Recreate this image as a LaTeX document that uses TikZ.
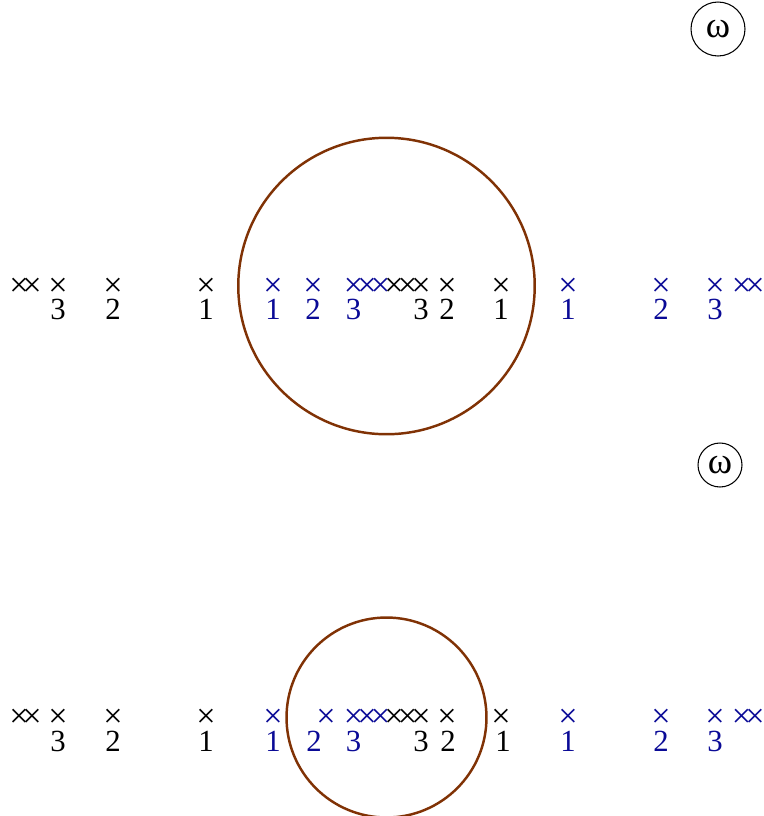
\documentclass[tikz,border=0pt]{standalone}
\usepackage{fontspec}
\setmainfont{Liberation Serif}
\usepackage{xcolor}
\usepackage{tikz}
\usetikzlibrary{positioning}
\definecolor{ringbrown}{RGB}{128,50,5}
\definecolor{imgblue}{RGB}{10,10,150}

\begin{document}
\begin{tikzpicture}[x=0.02cm,y=-0.02cm,
  every node/.style={inner sep=0pt,font=\fontsize{17.5}{20}\selectfont},
  xmark/.style={anchor=center,font=\fontsize{19.5}{22}\selectfont},
  lbl/.style={anchor=base},
  ring/.style={draw=ringbrown,line width=1.4pt,circle},
  omg/.style={draw,circle,line width=0.6pt,font=\fontsize{21}{24}\selectfont}]
  \useasboundingbox (0,0) rectangle (764,816);

  % top panel
  \node[omg,minimum size=1.08cm] (wtop) at (718,29) {ω};
  \node[ring,minimum size=5.93cm] (ctop) at (386.5,286) {};
  \foreach \p/\c [count=\i] in {19/black,32/black,58/black,113/black,206/black,
      273/imgblue,313/imgblue,353.5/imgblue,367/imgblue,380.5/imgblue,
      394/black,407.5/black,421/black,447/black,501/black,
      568/imgblue,661/imgblue,715/imgblue,741.5/imgblue,755/imgblue} {
    \node[xmark,text=\c] (tx\i) at (\p,287) {×};
  }
  \foreach \p/\c/\t [count=\i] in {58/black/3,113/black/2,206/black/1,
      273/imgblue/1,313/imgblue/2,353.5/imgblue/3,
      421/black/3,447/black/2,501/black/1,
      568/imgblue/1,661/imgblue/2,715/imgblue/3} {
    \node[lbl,text=\c] (tl\i) at (\p,319) {\t};
  }

  % bottom panel
  \node[omg,minimum size=0.88cm] (wbot) at (720,465) {ω};
  \node[ring,minimum size=4cm] (cbot) at (386.5,717.5) {};
  \foreach \p/\c [count=\i] in {19/black,32/black,58/black,113/black,206/black,
      273/imgblue,326/imgblue,353.5/imgblue,367/imgblue,380.5/imgblue,
      394/black,407.5/black,421/black,447/black,501/black,
      568/imgblue,661/imgblue,715/imgblue,741.5/imgblue,755/imgblue} {
    \node[xmark,text=\c] (bx\i) at (\p,718) {×};
  }
  \foreach \p/\c/\t [count=\i] in {58/black/3,113/black/2,206/black/1,
      273/imgblue/1,314/imgblue/2,353.5/imgblue/3,
      421/black/3,448/black/2,503/black/1,
      568/imgblue/1,661/imgblue/2,715/imgblue/3} {
    \node[lbl,text=\c] (bl\i) at (\p,751) {\t};
  }
\end{tikzpicture}
\end{document}
